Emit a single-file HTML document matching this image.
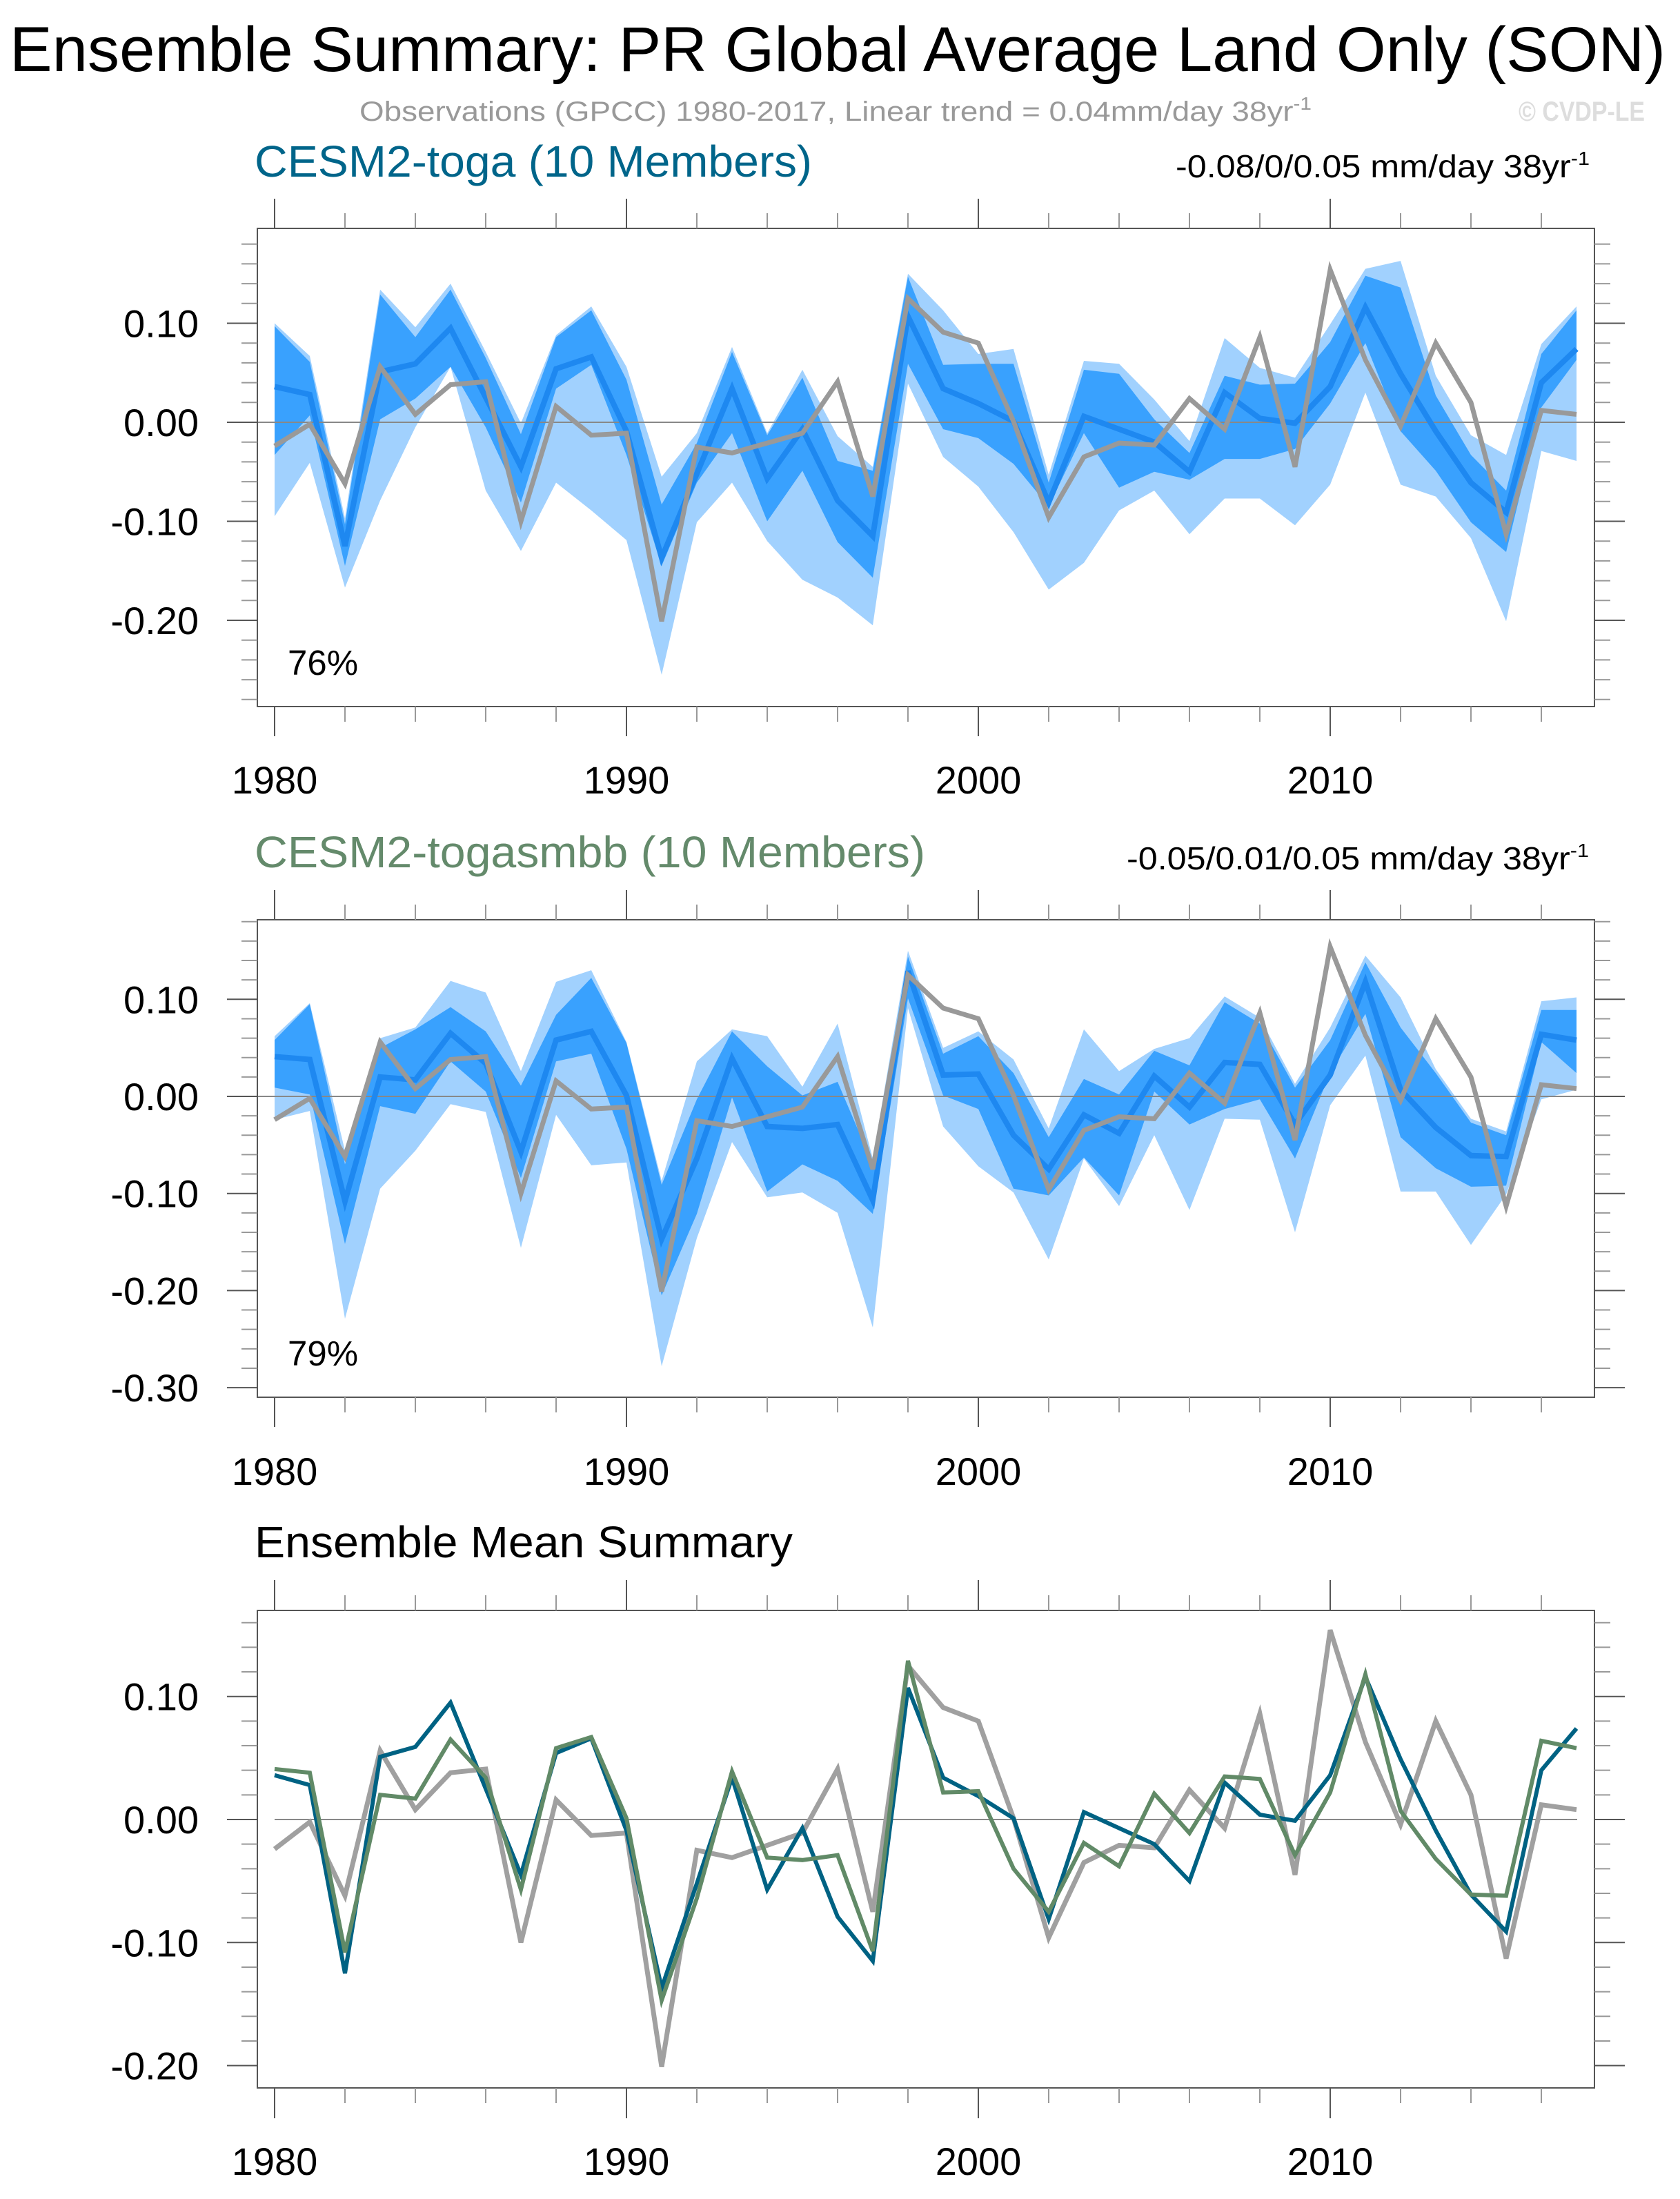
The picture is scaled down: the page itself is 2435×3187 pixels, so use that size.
<!DOCTYPE html>
<html><head><meta charset="utf-8"><style>
html,body{margin:0;padding:0;background:#fff;}
svg{display:block;font-family:"Liberation Sans",sans-serif;}
</style></head><body>
<svg id="chart" xmlns="http://www.w3.org/2000/svg" width="2435" height="3187" viewBox="0 0 2435 3187">
<rect x="0" y="0" width="2435" height="3187" fill="#fff"/>
<text x="14" y="103" font-size="92" textLength="2400" lengthAdjust="spacingAndGlyphs" fill="#000">Ensemble Summary: PR Global Average Land Only (SON)</text>
<text x="521" y="175" font-size="40" fill="#999" textLength="1380" lengthAdjust="spacingAndGlyphs">Observations (GPCC) 1980-2017, Linear trend = 0.04mm/day 38yr<tspan dy="-16" font-size="26">-1</tspan></text>
<text x="2201" y="175" font-size="40" font-weight="bold" fill="#ddd" textLength="183" lengthAdjust="spacingAndGlyphs">© CVDP-LE</text>
<g id="plots"></g>
</svg>
<script>
const years = [1980,1981,1982,1983,1984,1985,1986,1987,1988,1989,1990,1991,1992,1993,1994,1995,1996,1997,1998,1999,2000,2001,2002,2003,2004,2005,2006,2007,2008,2009,2010,2011,2012,2013,2014,2015,2016,2017];
const obs = [-0.024,-0.002,-0.062,0.056,0.008,0.038,0.041,-0.100,0.016,-0.013,-0.011,-0.201,-0.025,-0.031,-0.021,-0.011,0.041,-0.075,0.125,0.091,0.080,0.001,-0.096,-0.035,-0.021,-0.023,0.024,-0.007,0.086,-0.045,0.154,0.063,-0.004,0.080,0.020,-0.113,0.012,0.008];
const togaMean = [0.036,0.028,-0.125,0.051,0.059,0.095,0.025,-0.045,0.054,0.066,-0.009,-0.137,-0.052,0.034,-0.057,-0.007,-0.079,-0.115,0.107,0.034,0.019,0.001,-0.081,0.006,-0.007,-0.020,-0.050,0.030,0.004,-0.001,0.036,0.116,0.049,-0.009,-0.061,-0.091,0.040,0.074];
const togaMax = [0.100,0.067,-0.097,0.134,0.096,0.140,0.071,-0.001,0.088,0.117,0.056,-0.055,-0.011,0.076,-0.011,0.053,-0.014,-0.045,0.150,0.113,0.069,0.074,-0.053,0.062,0.059,0.023,-0.019,0.085,0.055,0.045,0.099,0.155,0.163,0.047,-0.013,-0.033,0.079,0.117];
const togaQ3 = [0.097,0.061,-0.103,0.129,0.086,0.134,0.065,-0.012,0.086,0.113,0.043,-0.083,-0.021,0.071,-0.013,0.045,-0.039,-0.049,0.147,0.058,0.059,0.059,-0.061,0.053,0.049,0.003,-0.031,0.047,0.038,0.039,0.081,0.148,0.136,0.027,-0.033,-0.069,0.069,0.113];
const togaQ1 = [-0.033,0.007,-0.145,0.003,0.024,0.056,-0.005,-0.081,0.034,0.058,-0.033,-0.145,-0.061,-0.011,-0.100,-0.049,-0.121,-0.157,0.059,-0.007,-0.016,-0.042,-0.085,-0.011,-0.066,-0.050,-0.058,-0.037,-0.037,-0.027,0.019,0.080,-0.009,-0.049,-0.101,-0.131,0.015,0.063];
const togaMin = [-0.095,-0.041,-0.167,-0.079,-0.005,0.056,-0.069,-0.130,-0.061,-0.089,-0.119,-0.255,-0.101,-0.061,-0.120,-0.159,-0.177,-0.205,0.039,-0.035,-0.065,-0.111,-0.169,-0.142,-0.089,-0.069,-0.113,-0.077,-0.077,-0.104,-0.063,0.030,-0.063,-0.075,-0.117,-0.201,-0.029,-0.039];
const smbbMean = [0.041,0.038,-0.108,0.020,0.017,0.065,0.034,-0.057,0.058,0.067,0.001,-0.147,-0.064,0.039,-0.031,-0.033,-0.029,-0.107,0.129,0.022,0.023,-0.040,-0.075,-0.019,-0.038,0.021,-0.011,0.035,0.033,-0.029,0.022,0.118,0.007,-0.032,-0.061,-0.062,0.064,0.058];
const smbbMax = [0.062,0.096,-0.056,0.060,0.071,0.119,0.107,0.026,0.118,0.130,0.056,-0.087,0.036,0.069,0.062,0.010,0.075,-0.064,0.150,0.050,0.067,0.038,-0.033,0.069,0.026,0.049,0.060,0.103,0.081,0.013,0.071,0.145,0.102,0.028,-0.023,-0.036,0.098,0.102];
const smbbQ3 = [0.058,0.095,-0.070,0.050,0.069,0.092,0.067,0.011,0.084,0.122,0.055,-0.091,-0.003,0.067,0.031,0.001,0.015,-0.070,0.144,0.044,0.062,0.024,-0.042,0.018,0.002,0.047,0.032,0.097,0.075,0.009,0.058,0.138,0.071,0.024,-0.027,-0.040,0.089,0.089];
const smbbQ1 = [0.009,0.002,-0.152,-0.010,-0.018,0.036,0.005,-0.084,0.036,0.044,-0.054,-0.205,-0.121,-0.001,-0.098,-0.070,-0.087,-0.121,0.101,0.001,-0.013,-0.095,-0.102,-0.063,-0.102,0.005,-0.029,-0.013,-0.003,-0.064,0.024,0.085,-0.042,-0.074,-0.093,-0.092,0.056,0.024];
const smbbMin = [-0.024,-0.015,-0.229,-0.095,-0.056,-0.008,-0.016,-0.156,-0.019,-0.071,-0.068,-0.278,-0.146,-0.047,-0.104,-0.099,-0.120,-0.238,0.091,-0.031,-0.072,-0.099,-0.168,-0.064,-0.113,-0.040,-0.117,-0.023,-0.024,-0.140,-0.009,0.042,-0.098,-0.098,-0.153,-0.101,-0.003,0.007];
const yTickLabels1 = ["0.10","0.00","-0.10","-0.20"];
const yTickLabels2 = ["0.10","0.00","-0.10","-0.20","-0.30"];
const yTickLabels3 = ["0.10","0.00","-0.10","-0.20"];
const xTickLabels = ["1980","1990","2000","2010"];

const NS = "http://www.w3.org/2000/svg";
const root = document.getElementById('plots');
function mk(tag, attrs, parent){ const e=document.createElementNS(NS,tag); for(const k in attrs) e.setAttribute(k,attrs[k]); (parent||root).appendChild(e); return e; }

const X0 = 373, X1 = 2311, Y1980 = 398, STEP = 51.0;
function xs(yr){ return Y1980 + (yr-1980)*STEP; }

function panel(cfg){
  const g = mk('g',{});
  
  
  const ys = v => cfg.y0 - v*cfg.scale;
  const frameTop = cfg.top, frameBot = cfg.bot;
  function band(hi, lo, color, nm){
    let d = 'M';
    years.forEach((yr,i)=>{ d += (i?' L':'') + xs(yr).toFixed(1)+','+ys(hi[i]).toFixed(1); });
    for(let i=years.length-1;i>=0;i--) d += ' L'+xs(years[i]).toFixed(1)+','+ys(lo[i]).toFixed(1);
    const p = mk('path',{d:d+' Z', fill:color, stroke:'none'}, g);
    
    
  }
  function line(vals, color, w, nm){
    const pts = years.map((yr,i)=>xs(yr).toFixed(1)+','+ys(vals[i]).toFixed(1)).join(' ');
    const p = mk('polyline',{points:pts, fill:'none', stroke:color, 'stroke-width':w, 'stroke-linejoin':'miter'}, g);
    
    
  }
  if(cfg.bands){
    band(cfg.bands[0], cfg.bands[3], '#a1d1fe', cfg.prefix+'-range-band');
    band(cfg.bands[1], cfg.bands[2], '#39a1fe', cfg.prefix+'-iqr-band');
  }
  const z = mk('line',{x1:cfg.zeroX0||X0, x2:cfg.zeroX1||X1, y1:ys(0), y2:ys(0), stroke:'#888', 'stroke-width':2}, g);
  
  
  cfg.lines.forEach(l=>line(l[0], l[1], l[2], l[3]));
  const fr = mk('rect',{x:X0, y:frameTop, width:X1-X0, height:frameBot-frameTop, fill:'none', stroke:'#555', 'stroke-width':2}, g);
  
  
  for(let yr=1980; yr<=2016; yr+=2){
    const major = (yr%10===0);
    const L = major? cfg.xMaj : cfg.xMin;
    mk('line',{x1:xs(yr),x2:xs(yr),y1:frameTop,y2:frameTop-L,stroke:major?'#555':'#999','stroke-width':2}, g);
    mk('line',{x1:xs(yr),x2:xs(yr),y1:frameBot,y2:frameBot+L,stroke:major?'#555':'#999','stroke-width':2}, g);
  }
  xTickLabels.forEach(lbl=>{
    const t = mk('text',{x:xs(+lbl), y:cfg.xLabY, 'font-size':56, 'text-anchor':'middle', fill:'#000'}, g);
    t.textContent = lbl;
    
    
  });
  for(let k=Math.round(cfg.vTop/0.02); k>=Math.round(cfg.vBot/0.02); k--){
    const v = k*0.02; const y = ys(v);
    if(y < frameTop-1 || y > frameBot+1) continue;
    const major = (k%5===0);
    const L = major?44:23;
    mk('line',{x1:X0,x2:X0-L,y1:y,y2:y,stroke:major?'#555':'#999','stroke-width':2}, g);
    mk('line',{x1:X1,x2:X1+L,y1:y,y2:y,stroke:major?'#555':'#999','stroke-width':2}, g);
  }
  cfg.yLabels.forEach(lbl=>{
    const t = mk('text',{x:288, y:ys(parseFloat(lbl))+20, 'font-size':56, 'text-anchor':'end', fill:'#000'}, g);
    t.textContent = lbl;
    
    
  });
  return g;
}

panel({name:'toga-panel', prefix:'toga', y0:612, scale:1435, top:331, bot:1024, vTop:0.18, vBot:-0.28,
  xMaj:43, xMin:22, xLabY:1150, yLabels:yTickLabels1,
  bands:[togaMax,togaQ3,togaQ1,togaMin],
  lines:[[togaMean,'#1e88f0',8,'toga-ensemble-mean-line'],[obs,'#999',7,'obs-line']]});
panel({name:'togasmbb-panel', prefix:'togasmbb', y0:1589, scale:1407, top:1333, bot:2025, vTop:0.18, vBot:-0.30,
  xMaj:43, xMin:22, xLabY:2152, yLabels:yTickLabels2,
  bands:[smbbMax,smbbQ3,smbbQ1,smbbMin],
  lines:[[smbbMean,'#1e88f0',8,'togasmbb-ensemble-mean-line'],[obs,'#999',7,'obs-line']]});
panel({name:'ensemble-mean-panel', prefix:'mean', y0:2637, scale:1783, top:2334, bot:3026, vTop:0.16, vBot:-0.22,
  xMaj:44, xMin:22, xLabY:3152, yLabels:yTickLabels3, zeroX0:398, zeroX1:2286,
  lines:[[obs,'#a0a0a0',7,'obs-line'],[togaMean,'#006283',6,'toga-mean-line'],[smbbMean,'#618a67',6,'togasmbb-mean-line']]});

function txt(attrs, s, nm){ const t=mk('text',attrs); t.innerHTML=s;   return t; }
txt({x:369,y:256,'font-size':64,fill:'#00658a',textLength:808,lengthAdjust:'spacingAndGlyphs'},'CESM2-toga (10 Members)','toga-title');
txt({x:1704,y:257,'font-size':46,fill:'#000',textLength:600,lengthAdjust:'spacingAndGlyphs'},'-0.08/0/0.05 mm/day 38yr<tspan dy="-18" font-size="28">-1</tspan>','toga-trend-label');
txt({x:369,y:1257,'font-size':64,fill:'#648a6b',textLength:972,lengthAdjust:'spacingAndGlyphs'},'CESM2-togasmbb (10 Members)','togasmbb-title');
txt({x:1633,y:1260,'font-size':46,fill:'#000',textLength:670,lengthAdjust:'spacingAndGlyphs'},'-0.05/0.01/0.05 mm/day 38yr<tspan dy="-18" font-size="28">-1</tspan>','togasmbb-trend-label');
txt({x:369,y:2257,'font-size':64,fill:'#000',textLength:780,lengthAdjust:'spacingAndGlyphs'},'Ensemble Mean Summary','ensemble-mean-title');
txt({x:417,y:978,'font-size':51,fill:'#000'},'76%','toga-percent-label');
txt({x:417,y:1979,'font-size':51,fill:'#000'},'79%','togasmbb-percent-label');
</script>
</body></html>
